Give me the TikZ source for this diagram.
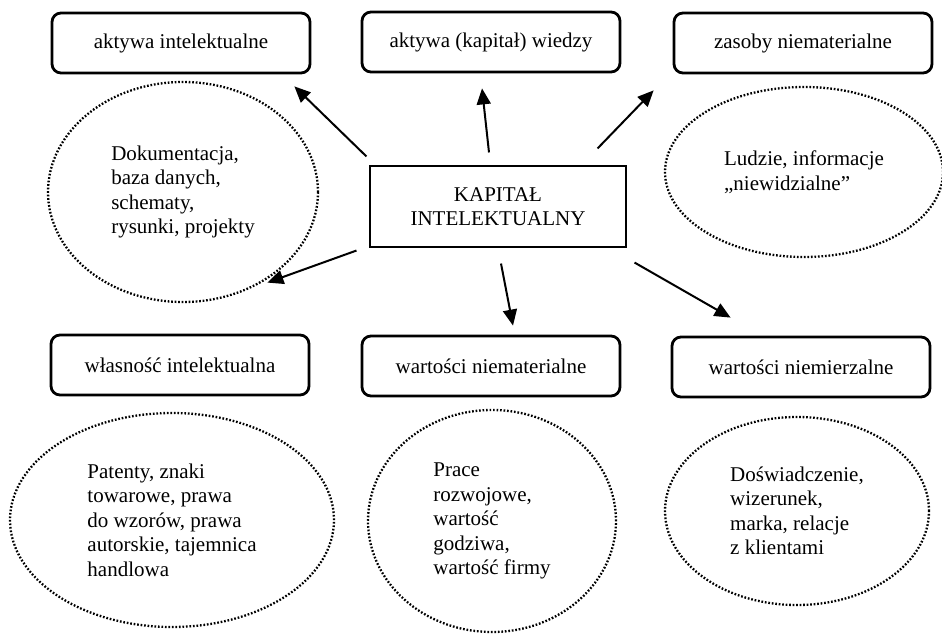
\documentclass[tikz,border=0pt]{standalone}
\usepackage{fontspec}
\setmainfont{Liberation Serif}
\usetikzlibrary{arrows.meta,shapes.geometric}

\tikzset{
  topicbox/.style={draw, line width=2.8pt, rounded corners=9pt,
    minimum width=258pt, minimum height=60pt, inner sep=0pt},
  corebox/.style={draw, line width=1.1pt, minimum width=256pt,
    minimum height=81pt, align=center, inner sep=0pt},
  notecloud/.style={draw, ellipse, line width=2.3pt,
    dash pattern=on 1.7pt off 1.8pt, align=left, inner sep=0pt},
  linkarrow/.style={-{Triangle[length=16pt,width=14pt]}, line width=2pt},
}

\begin{document}
\begin{tikzpicture}[x=1pt, y=-1pt, font=\fontsize{21}{24.5}\selectfont]
\useasboundingbox (0,0) rectangle (942,634);
% ---------- centre ----------
\node[corebox] (kap) at (498,206.5) {KAPITAŁ\\INTELEKTUALNY};
% ---------- upper row ----------
\node[topicbox] (aint) at (181,43) {aktywa intelektualne};
\node[topicbox] (awie) at (491,42) {aktywa (kapitał) wiedzy};
\node[topicbox] (zas)  at (803,43) {zasoby niematerialne};
\node[notecloud, minimum width=270pt, minimum height=220pt] (dok) at (183,192)
  {Dokumentacja,\\baza danych,\\schematy,\\rysunki, projekty};
\node[notecloud, minimum width=278pt, minimum height=170pt] (ludz) at (804,172)
  {Ludzie, informacje\\„niewidzialne”};
% ---------- lower row ----------
\node[topicbox] (wlas) at (180,365) {własność intelektualna};
\node[topicbox] (wnmat) at (491,366) {wartości niematerialne};
\node[topicbox] (wnmie) at (801,367) {wartości niemierzalne};
\node[notecloud, minimum width=324pt, minimum height=214pt] (pat) at (172,520)
  {Patenty, znaki\\towarowe, prawa\\do wzorów, prawa\\autorskie, tajemnica\\handlowa};
\node[notecloud, minimum width=248pt, minimum height=222pt] (prac) at (492,521)
  {Prace\\rozwojowe,\\wartość\\godziwa,\\wartość firmy};
\node[notecloud, minimum width=264pt, minimum height=188pt] (dosw) at (797,511)
  {Doświadczenie,\\wizerunek,\\marka, relacje\\z klientami};
% ---------- arrows out of the centre ----------
\draw[linkarrow] ([xshift=-3pt,yshift=9pt]kap.north west) -- ([xshift=-17pt,yshift=-12pt]aint.south east);
\draw[linkarrow] ([xshift=-9pt,yshift=13pt]kap.north) -- ([xshift=-9pt,yshift=-15pt]awie.south);
\draw[linkarrow] ([xshift=-29pt,yshift=17pt]kap.north east) -- ([xshift=-19pt,yshift=-16pt]zas.south west);
\draw[linkarrow] ([xshift=-13pt,yshift=-3pt]kap.south west) -- ([xshift=-43pt,yshift=51pt]wlas.north east);
\draw[linkarrow] ([xshift=3pt,yshift=-16pt]kap.south) -- ([xshift=22pt,yshift=9pt]wnmat.north);
\draw[linkarrow] ([xshift=8pt,yshift=-15pt]kap.south east) -- ([xshift=60pt,yshift=18pt]wnmie.north west);
\end{tikzpicture}
\end{document}
